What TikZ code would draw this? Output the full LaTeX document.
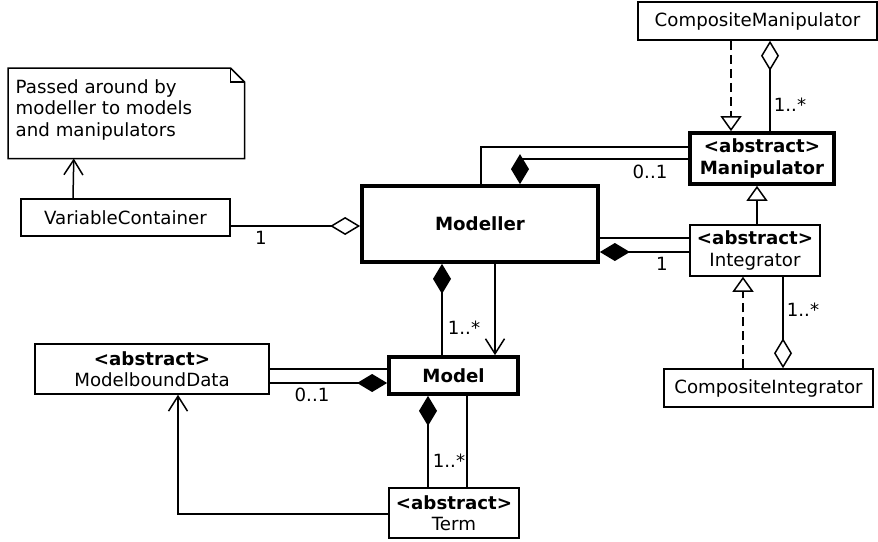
\documentclass[tikz,border=0pt]{standalone}
\usepackage{fontspec}
\setmainfont{DejaVu Sans}
\usetikzlibrary{arrows.meta,calc}
\begin{document}
\begin{tikzpicture}[x=1pt,y=-1pt,line width=1.5pt,
  every node/.style={font=\fontsize{18.2}{21.5}\selectfont},
  box/.style={draw,rectangle,inner sep=0pt,align=center,line width=1.5pt},
  thickbox/.style={box,line width=3.7pt},
  lbl/.style={inner sep=0pt},
  compstart/.style={arrows={Diamond[length=30pt,width=18pt]-}},
  compend/.style={arrows={-Diamond[length=30pt,width=18pt]}},
  aggstart/.style={arrows={Diamond[open,length=30pt,width=18pt]-}},
  aggend/.style={arrows={-Diamond[open,length=30pt,width=18pt]}},
  openarr/.style={arrows={-Straight Barb[length=15pt,width=19pt]}},
  gen/.style={arrows={-Triangle[open,length=15pt,width=21pt]}},
  realize/.style={gen,dash pattern=on 9pt off 5pt}
]
\fill[white] (0,0) rectangle (878,541);
\useasboundingbox (0,0) rectangle (878,541);

% note
\node[anchor=north west,inner sep=0pt,minimum width=235pt,minimum height=89pt] (note) at (8,68) {};
\draw (note.south west) -- (note.north west) -- ([xshift=-14]note.north east)
  -- ([yshift=-14]note.north east) -- (note.south east) -- cycle;
\draw ([xshift=-14]note.north east) -- ([xshift=-14,yshift=-14]note.north east) -- ([yshift=-14]note.north east);
\node[anchor=north west,align=left,inner sep=0pt] (notetext) at ([xshift=7,yshift=-10.5]note.north west)
  {Passed around by\\modeller to models\\and manipulators};

% classes
\node[box,minimum width=209pt,minimum height=37pt] (vc) at (125.5,217.5) {VariableContainer};
\node[thickbox,minimum width=236pt,minimum height=76pt] (modeller) at (480,224) {\textbf{Modeller}};
\node[thickbox,minimum width=144pt,minimum height=51pt] (manip) at (762,158.5) {\textbf{<abstract>}\\\textbf{Manipulator}};
\node[box,minimum width=130pt,minimum height=51pt] (integ) at (755,250.5) {\textbf{<abstract>}\\Integrator};
\node[box,minimum width=239pt,minimum height=38pt] (compman) at (757.5,21) {CompositeManipulator};
\node[box,minimum width=209pt,minimum height=38pt] (compint) at (768.5,388) {CompositeIntegrator};
\node[thickbox,minimum width=129pt,minimum height=37pt] (model) at (453.5,375.5) {\textbf{Model}};
\node[box,minimum width=234pt,minimum height=50pt] (mbd) at (152,369) {\textbf{<abstract>}\\ModelboundData};
\node[box,minimum width=130pt,minimum height=50pt] (term) at (454,513) {\textbf{<abstract>}\\Term};

% connectors
\draw[openarr] ([xshift=-52.5]vc.north) -- ([xshift=-52.5]note.south);
\draw[aggend] ([yshift=-8.5]vc.east) -- ([yshift=-2]modeller.west);
\node[lbl] (l1) at (261,238) {1};

\draw ([xshift=1]modeller.north) |- ([yshift=11.5]manip.west);
\draw[compstart] ([xshift=40]modeller.north) |- ([yshift=-0.5]manip.west);
\node[lbl] (l2) at (650,172) {0..1};

\draw ([yshift=-14]modeller.east) -- ([yshift=12.5]integ.west);
\draw[compstart] ([yshift=-28]modeller.east) -- ([yshift=-1.5]integ.west);
\node[lbl] (l3) at (662,264) {1};

\draw[gen] ([xshift=2]integ.north) -- ([xshift=-5]manip.south);
\draw[realize] ([xshift=-26.5]compman.south) -- ([xshift=-31]manip.north);
\draw[aggstart] ([xshift=12.5]compman.south) -- ([xshift=8]manip.north);
\node[lbl] (l4) at (790,105) {1..*};

\draw[realize] ([xshift=-25.5]compint.north) -- ([xshift=-12]integ.south);
\draw[aggend] ([xshift=28]integ.south) -- ([xshift=14.5]compint.north);
\node[lbl] (l5) at (803,310) {1..*};

\draw[compstart] ([xshift=-38]modeller.south) -- ([xshift=-11.5]model.north);
\draw[openarr] ([xshift=15]modeller.south) -- ([xshift=41.5]model.north);
\node[lbl] (l6) at (464,328) {1..*};

\draw (mbd.east) -- ([yshift=6.5]model.west);
\draw[compend] ([yshift=-14]mbd.east) -- ([yshift=-7.5]model.west);
\node[lbl] (l7) at (312,395) {0..1};

\draw[compstart] ([xshift=-25.5]model.south) -- ([xshift=-26]term.north);
\draw ([xshift=13.5]model.south) -- ([xshift=13]term.north);
\node[lbl] (l8) at (449,461) {1..*};

\draw[openarr] ([yshift=-1]term.west) -| ([xshift=26]mbd.south);
\end{tikzpicture}
\end{document}
